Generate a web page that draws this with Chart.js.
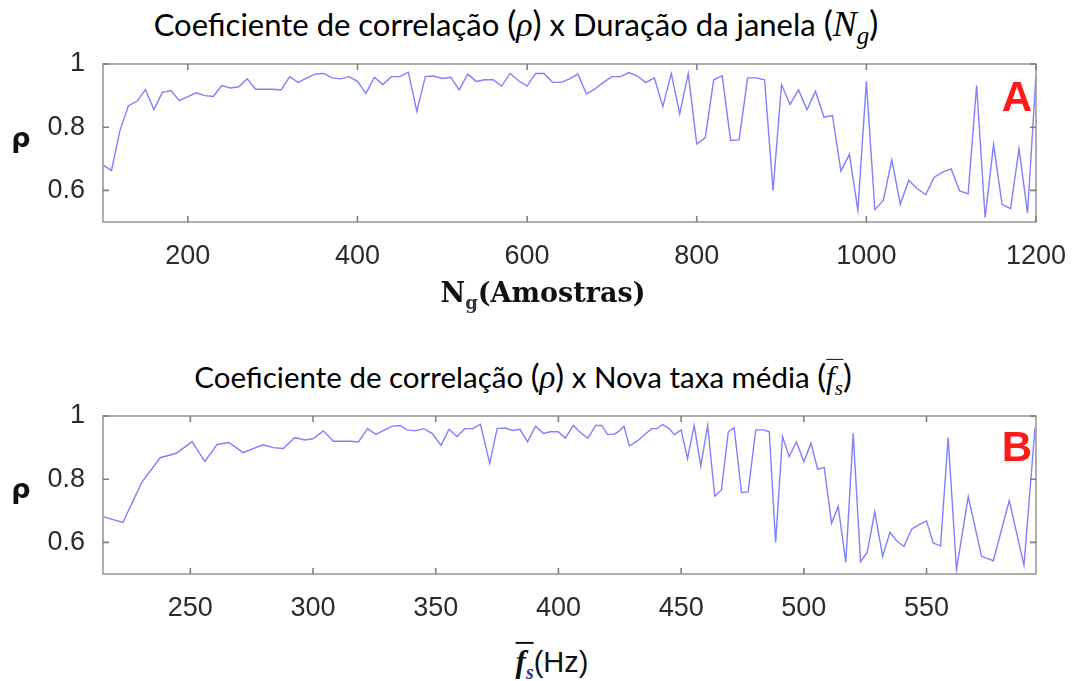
<!DOCTYPE html>
<html>
<head>
<meta charset="utf-8">
<script src="https://cdn.jsdelivr.net/npm/chart.js@4/dist/chart.umd.min.js"></script>
<style>
  body { margin: 0; background: #fff; }
  #page { position: relative; width: 1078px; height: 681px; background: #fff; overflow: hidden; }
  .box { position: absolute; left: 0; width: 1078px; }
  .txt { position: absolute; white-space: nowrap; transform: translate(-50%, -50%); color: #111; }
  .title { font-family: Lato, "Open Sans", sans-serif; font-size: 30px; color: #000; }
  .mi { font-family: "Liberation Serif", serif; font-style: italic; }
  .bar { display: inline-block; border-top: 1.6px solid #111; line-height: 1; padding-top: 2px; }
  .ylab { font-family: "DejaVu Sans", sans-serif; font-weight: bold; font-size: 27px; }
  .tag { font-family: "Liberation Sans", Arial, sans-serif; font-weight: bold; font-size: 42px; color: #ff1a1a; }
</style>
</head>
<body>
<div id="page">
  <div class="txt title" style="left:516px; top:26px; font-size:31px;">Coeficiente de correlação <span style="font-size:34px">(</span><span class="mi" style="font-size:34px">ρ</span><span style="font-size:34px">)</span> x Duração da janela <span style="font-size:34px">(</span><span class="mi" style="font-size:36px">N<sub style="font-size:25px">g</sub></span><span style="font-size:34px">)</span></div>
  <div class="box" style="top:50px; height:230px;"><canvas id="chartA"></canvas></div>
  <div class="txt ylab" style="left:21px; top:137px;">ρ</div>
  <div class="txt tag" style="left:1017px; top:97px;">A</div>
  <div class="txt" style="left:543px; top:295px; font-family:'DejaVu Serif', serif; font-weight:bold; font-size:27px;">N<sub style="font-size:18px; color:#334">g</sub>(Amostras)</div>

  <div class="txt title" style="left:523px; top:377px; font-size:29.5px;">Coeficiente de correlação <span style="font-size:33px">(</span><span class="mi" style="font-size:33px">ρ</span><span style="font-size:33px">)</span> x Nova taxa média <span style="font-size:33px">(</span><span class="mi bar" style="font-size:31px">f<sub style="font-size:21px">s</sub></span><span style="font-size:33px">)</span></div>
  <div class="box" style="top:402px; height:230px;"><canvas id="chartB"></canvas></div>
  <div class="txt ylab" style="left:21px; top:488px;">ρ</div>
  <div class="txt tag" style="left:1017px; top:447px;">B</div>
  <div class="txt" style="left:552px; top:662px; font-family:'Liberation Sans', Arial, sans-serif; font-size:29px;"><span class="mi bar" style="font-size:31px; font-weight:bold; border-top-width:2px;">f<sub style="font-size:20px; color:#2a3a7a">s</sub></span>(Hz)</div>
</div>

<script>
// window length (samples) and corresponding new mean rate (Hz)
const ngSamples = [100,110,120,130,140,150,160,170,180,190,200,210,220,230,240,250,260,270,280,290,
  300,310,320,330,340,350,360,370,380,390,400,410,420,430,440,450,460,470,480,490,
  500,510,520,530,540,550,560,570,580,590,600,610,620,630,640,650,660,670,680,690,
  700,710,720,730,740,750,760,770,780,790,800,810,820,830,840,850,860,870,880,890,
  900,910,920,930,940,950,960,970,980,990,1000,1010,1020,1030,1040,1050,1060,1070,1080,1090,
  1100,1110,1120,1130,1140,1150,1160,1170,1180,1190,1200];

const fsMean = [214.6,222.5,230.2,237.7,244.3,250.7,255.9,260.9,265.7,271.5,275.6,279.6,283.8,287.9,292.5,296.6,300.0,304.2,308.3,311.7,
  315.1,318.5,322.2,325.6,329.0,332.4,335.5,338.3,341.8,345.1,348.5,352.2,355.4,358.7,361.8,365.0,368.2,372.0,375.0,378.3,
  381.3,384.3,387.4,390.7,393.8,396.8,399.9,402.8,406.1,409.0,412.0,415.2,417.6,420.0,422.7,424.8,426.7,428.9,432.2,435.3,
  438.0,440.1,442.4,444.8,447.3,450.0,452.6,455.3,458.0,460.8,463.7,466.4,469.2,471.6,474.6,477.3,480.4,483.4,485.9,488.5,
  491.3,494.0,497.0,500.0,502.9,505.6,508.3,511.3,514.0,517.1,520.1,523.1,525.8,528.9,532.1,535.1,537.8,540.8,543.9,547.3,
  550.0,552.7,555.7,558.8,562.2,567.0,572.4,577.2,583.7,589.7,594.2];

const rho = [0.681,0.663,0.790,0.868,0.882,0.919,0.856,0.910,0.916,0.884,0.897,0.909,0.900,0.897,0.932,0.924,0.928,0.953,0.920,0.920,
  0.920,0.918,0.960,0.942,0.955,0.968,0.970,0.956,0.953,0.960,0.945,0.907,0.958,0.935,0.960,0.960,0.974,0.850,0.960,0.962,
  0.954,0.958,0.918,0.968,0.945,0.950,0.950,0.930,0.970,0.947,0.930,0.970,0.970,0.942,0.942,0.953,0.968,0.905,0.921,0.942,
  0.960,0.960,0.973,0.962,0.941,0.956,0.865,0.970,0.842,0.970,0.747,0.766,0.950,0.963,0.758,0.760,0.956,0.956,0.950,0.600,
  0.935,0.872,0.918,0.855,0.914,0.832,0.837,0.661,0.714,0.537,0.945,0.539,0.568,0.697,0.556,0.632,0.605,0.587,0.642,0.658,
  0.668,0.598,0.589,0.932,0.514,0.745,0.556,0.542,0.732,0.528,0.963];

const rhoTicks = [0.6, 0.8, 1.0];
const ngTicks = [200, 400, 600, 800, 1000, 1200];
const fsTicks = [250, 300, 350, 400, 450, 500, 550];

// matlab-like frame with inward tick marks
const matlabBox = {
  id: 'matlabBox',
  afterDraw(chart) {
    const { ctx, chartArea: a, scales } = chart;
    ctx.save();
    ctx.strokeStyle = '#9a9a9a';
    ctx.lineWidth = 1.6;
    ctx.strokeRect(a.left, a.top, a.right - a.left, a.bottom - a.top);
    ctx.strokeStyle = '#808080';
    ctx.beginPath();
    scales.x.ticks.forEach(t => {
      const px = scales.x.getPixelForValue(t.value);
      ctx.moveTo(px, a.bottom); ctx.lineTo(px, a.bottom - 6);
      ctx.moveTo(px, a.top); ctx.lineTo(px, a.top + 6);
    });
    scales.y.ticks.forEach(t => {
      const py = scales.y.getPixelForValue(t.value);
      ctx.moveTo(a.left, py); ctx.lineTo(a.left + 6, py);
      ctx.moveTo(a.right, py); ctx.lineTo(a.right - 6, py);
    });
    ctx.stroke();
    ctx.restore();
  }
};

const tickFont = { family: '"Liberation Sans", Arial, sans-serif', size: 27 };

function makeChart(id, xs, xmin, xmax, xticks) {
  const ctx = document.getElementById(id).getContext('2d');
  return new Chart(ctx, {
    type: 'line',
    data: {
      datasets: [{
        data: xs.map((x, i) => ({ x: x, y: rho[i] })),
        borderColor: 'rgba(95,95,255,0.8)',
        borderWidth: 1.4,
        pointRadius: 0,
        tension: 0,
        fill: false
      }]
    },
    options: {
      responsive: true,
      maintainAspectRatio: false,
      animation: false,
      layout: { padding: { top: 14, right: 42, left: 0, bottom: 0 } },
      plugins: { legend: { display: false }, tooltip: { enabled: false } },
      scales: {
        x: {
          type: 'linear', min: xmin, max: xmax,
          grid: { display: false }, border: { display: false },
          afterBuildTicks: s => { s.ticks = xticks.map(v => ({ value: v })); },
          afterFit: s => { s.height = 58; s.paddingLeft = 0; s.paddingRight = 0; },
          ticks: { color: '#2b2b2b', padding: 10, maxRotation: 0,
            callback: v => String(v), font: tickFont }
        },
        y: {
          min: 0.5, max: 1.0,
          grid: { display: false }, border: { display: false },
          afterBuildTicks: s => { s.ticks = rhoTicks.map(v => ({ value: v })); },
          afterFit: s => { s.width = 103; s.paddingTop = 0; s.paddingBottom = 0; },
          ticks: { color: '#2b2b2b', padding: 10,
            callback: v => v === 1 ? '1' : v.toFixed(1), font: tickFont }
        }
      }
    },
    plugins: [matlabBox]
  });
}

makeChart('chartA', ngSamples, 100, 1200, ngTicks);
makeChart('chartB', fsMean, 214.4, 594.6, fsTicks);
</script>
</body>
</html>
